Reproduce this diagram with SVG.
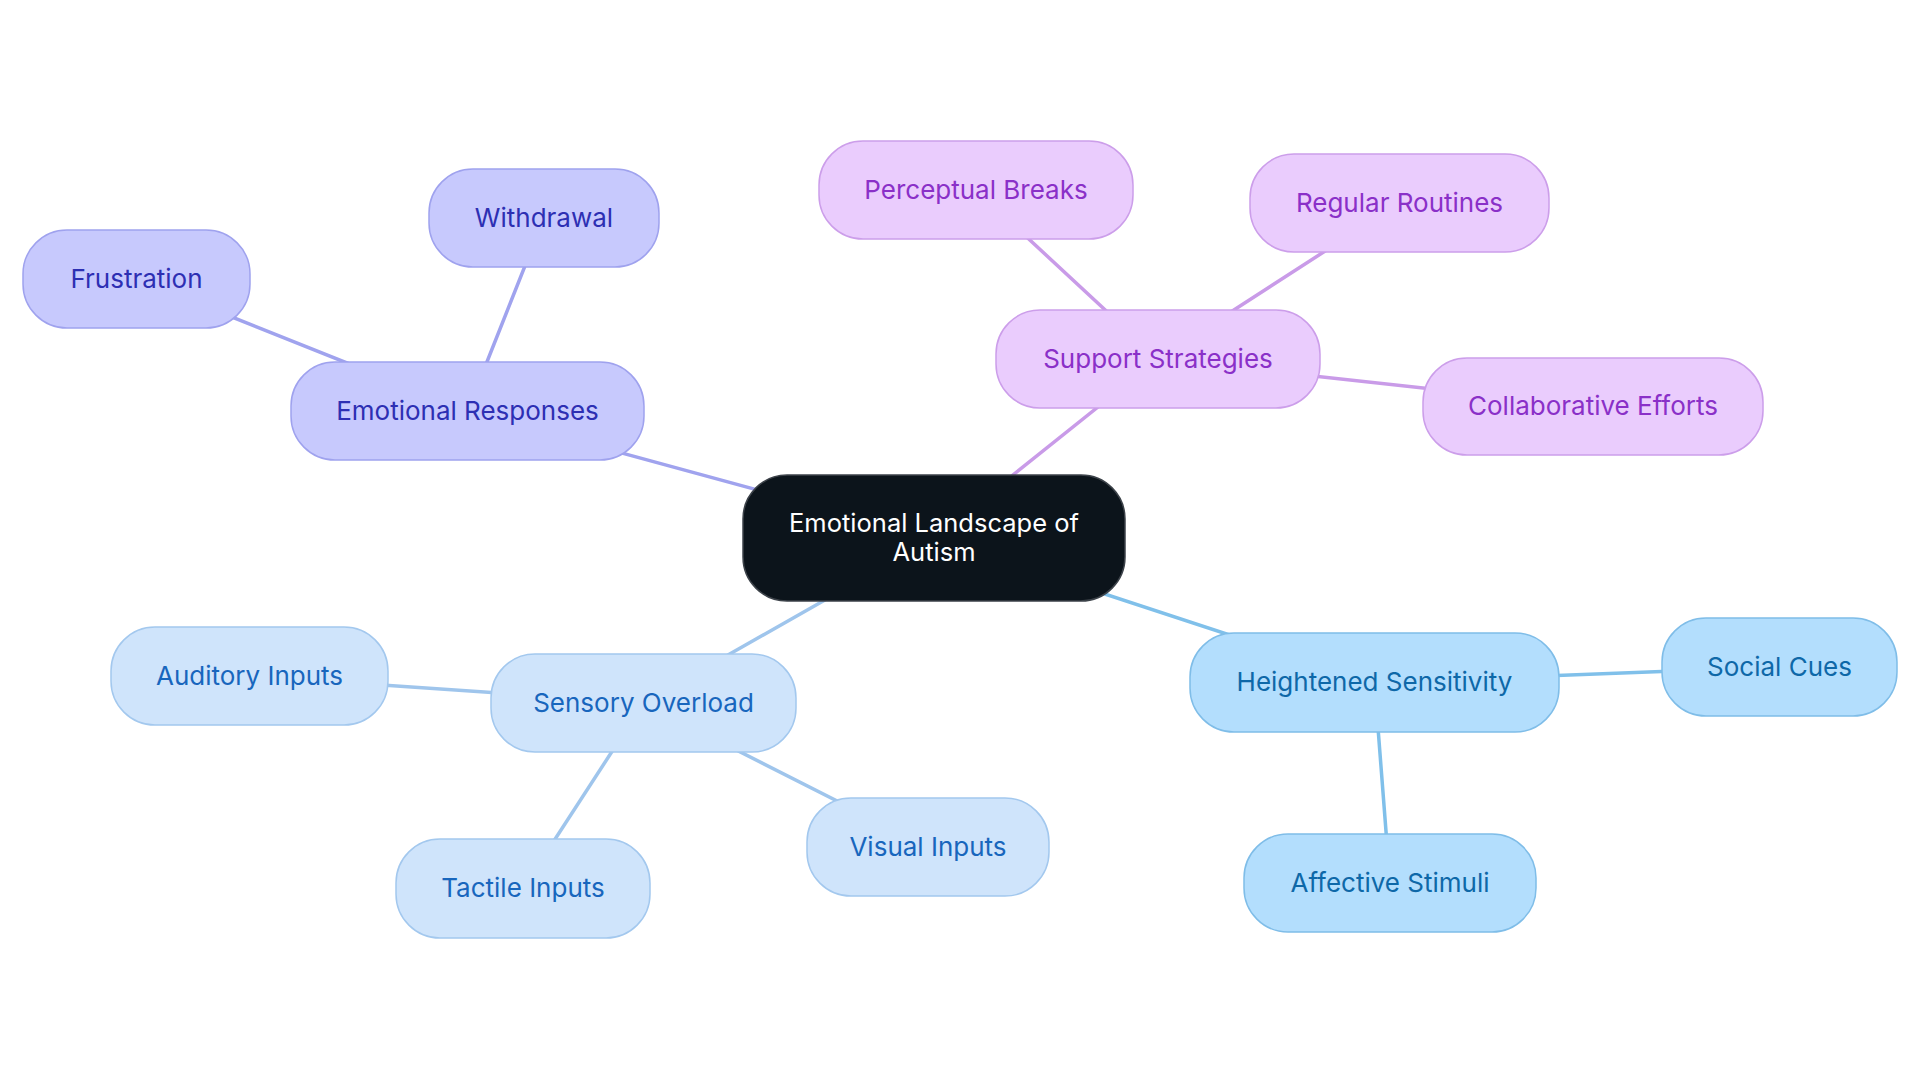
<svg xmlns="http://www.w3.org/2000/svg" width="1920" height="1083" viewBox="0 0 1920 1083">
<style>
  text { font-family: Inter, "Noto Sans", "Liberation Sans", sans-serif; font-size: 26px; text-anchor: middle; dominant-baseline: central; }
  .edge { stroke-width: 3.5; fill: none; stroke-linecap: round; }
  .e-er { stroke: #a0a3ee; }
  .e-ss { stroke: #c99be8; }
  .e-so { stroke: #9fc5ec; }
  .e-hs { stroke: #80c0ea; }
  .n-er rect { fill: #c7c9fd; stroke: #9fa2ee; stroke-width: 1.5; }
  .n-er text { fill: #2d2fb3; }
  .n-ss rect { fill: #eaccfd; stroke: #cc9eea; stroke-width: 1.5; }
  .n-ss text { fill: #8a30c8; }
  .n-so rect { fill: #cfe4fb; stroke: #a3c8ee; stroke-width: 1.5; }
  .n-so text { fill: #1866bd; }
  .n-hs rect { fill: #b3defd; stroke: #7fbde8; stroke-width: 1.5; }
  .n-hs text { fill: #0e68a8; }
  .n-root rect { fill: #0c141b; stroke: #3c4249; stroke-width: 1.5; }
  .n-root text { fill: #ffffff; font-size: 25.5px; }
</style>
<rect width="1920" height="1083" fill="#ffffff"/>
<g id="connectors">
  <line class="edge e-er" x1="934" y1="538" x2="467.5" y2="411"/>
  <line class="edge e-er" x1="467.5" y1="411" x2="136.5" y2="279"/>
  <line class="edge e-er" x1="467.5" y1="411" x2="544" y2="218"/>
  <line class="edge e-ss" x1="934" y1="538" x2="1158" y2="359"/>
  <line class="edge e-ss" x1="1158" y1="359" x2="976" y2="190"/>
  <line class="edge e-ss" x1="1158" y1="359" x2="1399.5" y2="203"/>
  <line class="edge e-ss" x1="1158" y1="359" x2="1593" y2="406.5"/>
  <line class="edge e-so" x1="934" y1="538" x2="643.5" y2="703"/>
  <line class="edge e-so" x1="643.5" y1="703" x2="249.5" y2="676"/>
  <line class="edge e-so" x1="643.5" y1="703" x2="523" y2="888.5"/>
  <line class="edge e-so" x1="643.5" y1="703" x2="928" y2="847"/>
  <line class="edge e-hs" x1="934" y1="538" x2="1374.5" y2="682.5"/>
  <line class="edge e-hs" x1="1374.5" y1="682.5" x2="1779.5" y2="667"/>
  <line class="edge e-hs" x1="1374.5" y1="682.5" x2="1390" y2="883"/>
</g>
<g id="node-root" class="n-root">
  <rect x="743" y="475" width="382" height="126" rx="44"/>
  <text x="934" y="522">Emotional Landscape of</text>
  <text x="934" y="551">Autism</text>
</g>
<g id="node-emotional-responses" class="n-er">
  <rect x="291" y="362" width="353" height="98" rx="44"/>
  <text x="467.5" y="410">Emotional Responses</text>
</g>
<g id="node-frustration" class="n-er">
  <rect x="23" y="230" width="227" height="98" rx="44"/>
  <text x="136.5" y="278">Frustration</text>
</g>
<g id="node-withdrawal" class="n-er">
  <rect x="429" y="169" width="230" height="98" rx="44"/>
  <text x="544" y="217">Withdrawal</text>
</g>
<g id="node-support-strategies" class="n-ss">
  <rect x="996" y="310" width="324" height="98" rx="44"/>
  <text x="1158" y="358">Support Strategies</text>
</g>
<g id="node-perceptual-breaks" class="n-ss">
  <rect x="819" y="141" width="314" height="98" rx="44"/>
  <text x="976" y="189">Perceptual Breaks</text>
</g>
<g id="node-regular-routines" class="n-ss">
  <rect x="1250" y="154" width="299" height="98" rx="44"/>
  <text x="1399.5" y="202">Regular Routines</text>
</g>
<g id="node-collaborative-efforts" class="n-ss">
  <rect x="1423" y="358" width="340" height="97" rx="44"/>
  <text x="1593" y="405.5">Collaborative Efforts</text>
</g>
<g id="node-sensory-overload" class="n-so">
  <rect x="491" y="654" width="305" height="98" rx="44"/>
  <text x="643.5" y="702">Sensory Overload</text>
</g>
<g id="node-auditory-inputs" class="n-so">
  <rect x="111" y="627" width="277" height="98" rx="44"/>
  <text x="249.5" y="675">Auditory Inputs</text>
</g>
<g id="node-tactile-inputs" class="n-so">
  <rect x="396" y="839" width="254" height="99" rx="44"/>
  <text x="523" y="887.5">Tactile Inputs</text>
</g>
<g id="node-visual-inputs" class="n-so">
  <rect x="807" y="798" width="242" height="98" rx="44"/>
  <text x="928" y="846">Visual Inputs</text>
</g>
<g id="node-heightened-sensitivity" class="n-hs">
  <rect x="1190" y="633" width="369" height="99" rx="44"/>
  <text x="1374.5" y="681.5">Heightened Sensitivity</text>
</g>
<g id="node-social-cues" class="n-hs">
  <rect x="1662" y="618" width="235" height="98" rx="44"/>
  <text x="1779.5" y="666">Social Cues</text>
</g>
<g id="node-affective-stimuli" class="n-hs">
  <rect x="1244" y="834" width="292" height="98" rx="44"/>
  <text x="1390" y="882">Affective Stimuli</text>
</g>
</svg>
